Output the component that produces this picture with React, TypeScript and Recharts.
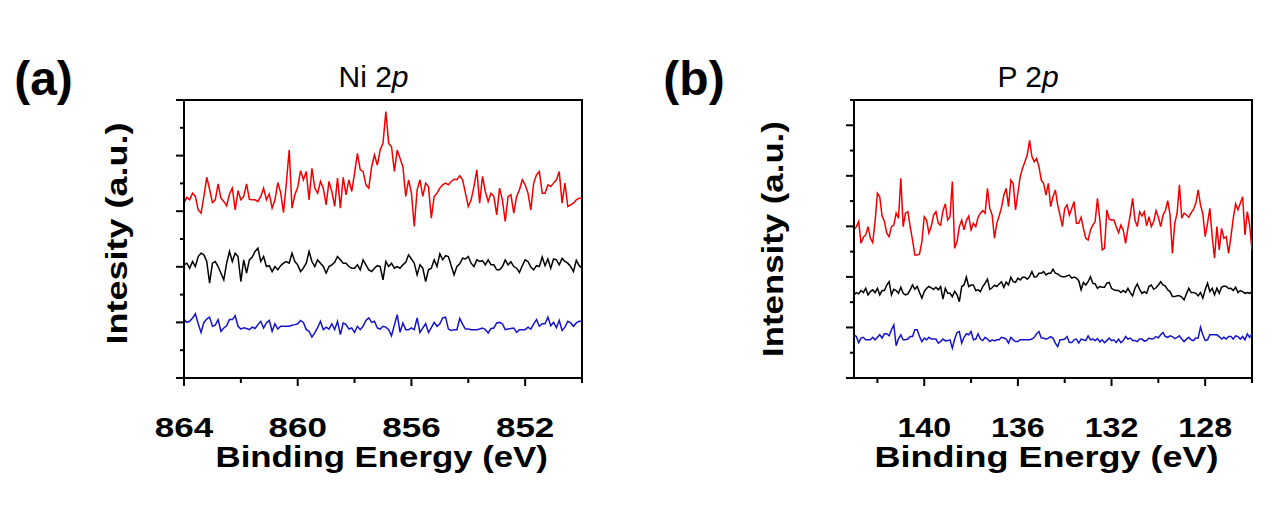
import { Line, LineChart, ReferenceArea, XAxis, YAxis } from "recharts";

// Ni 2p, 864 -> 850 eV, 0.1 eV step
const niStart = 864;
const niRed = [
  62.9, 65.0, 64.1, 66.5, 65.3, 60.5, 59.3, 65.3, 72.2, 67.9,
  63.1, 64.1, 69.8, 64.7, 63.5, 61.9, 66.2, 68.3, 60.5, 67.4,
  64.1, 65.3, 69.8, 64.3, 64.1, 64.1, 63.5, 65.3, 68.3, 64.1,
  66.2, 61.1, 64.1, 70.3, 66.7, 59.5, 70.1, 82.0, 61.1, 65.9,
  68.6, 74.6, 71.3, 74.3, 64.1, 75.4, 68.3, 66.5, 70.7, 68.3,
  62.3, 70.7, 67.1, 61.7, 71.9, 61.1, 72.2, 65.9, 71.3, 67.1,
  73.7, 80.8, 74.9, 74.3, 69.5, 68.3, 76.0, 80.2, 76.6, 82.0,
  84.4,
  95.8, 84.4, 83.2, 74.3, 82.0, 79.0, 76.0, 65.3, 71.3, 66.5,
  54.5, 67.7, 71.3, 65.3, 70.1, 68.9, 57.5, 65.3, 66.5, 68.3,
  69.5, 70.1, 69.5, 70.7, 71.5, 71.3, 72.7, 71.3, 66.5, 61.7,
  64.1, 68.9, 74.9, 62.9, 72.5, 67.1, 63.5, 66.5, 65.3, 58.7,
  68.3, 64.1, 56.3, 65.3, 65.9, 59.3, 65.3, 67.7, 71.3, 69.5,
  66.5, 60.5, 70.1, 73.1, 74.3, 66.5, 66.5, 69.5, 68.9, 70.1,
  71.3, 74.3, 62.9, 70.1, 61.7, 62.3, 62.9, 64.1, 64.7, 64.7,
];
const niBlack = [
  40.7, 41.3, 39.5, 41.9, 40.1, 43.7, 44.9, 44.3, 41.9, 34.1,
  41.3, 41.9, 40.1, 37.7, 35.3, 41.3, 45.5, 41.9, 44.9, 43.7,
  34.7, 42.5, 37.7, 42.5, 43.5, 45.5, 46.7, 41.9, 43.7, 40.1,
  40.4, 38.3, 40.1, 38.9, 40.4, 41.3, 41.9, 41.3, 44.9, 41.9,
  40.7, 38.3, 39.5, 41.3, 45.5, 41.9, 40.1, 42.5, 41.3, 40.1,
  37.7, 40.1, 40.7, 41.6, 43.7, 42.5, 41.3, 41.3, 40.1, 39.5,
  39.5, 40.7, 38.9, 42.5, 40.7, 38.9, 38.3, 39.5, 40.4, 40.1,
  35.3,
  41.9, 40.1, 41.3, 39.5, 40.1, 39.5, 40.7, 41.6, 44.3, 42.8,
  41.3, 37.1, 40.7, 39.5, 34.7, 38.9, 39.5, 42.5, 40.1, 44.7,
  42.5, 44.0, 43.7, 40.4, 37.1, 40.1, 41.1, 43.1, 42.8, 43.7,
  41.3, 40.1, 42.5, 41.9, 42.2, 40.7, 42.5, 40.7, 40.7, 38.9,
  38.9, 40.1, 42.5, 40.7, 41.8, 40.1, 39.5, 38.0, 40.4, 42.5,
  41.9, 39.9, 38.9, 40.4, 40.1, 43.5, 40.4, 42.8, 39.5, 42.8,
  42.5, 40.7, 43.0, 41.9, 41.3, 40.1, 38.3, 42.3, 40.4, 39.5,
];
const niBlue = [
  21.0, 20.0, 20.4, 21.6, 23.1, 19.5, 16.4, 20.0, 21.2, 21.9,
  18.6, 19.0, 21.0, 16.8, 18.0, 18.8, 21.0, 21.0, 22.4, 18.6,
  17.6, 18.1, 17.8, 17.4, 18.3, 17.8, 19.2, 20.4, 18.0, 19.8,
  20.7, 16.8, 19.5, 17.6, 18.6, 18.6, 18.6, 18.6, 19.0, 19.2,
  19.5, 20.7, 20.0, 17.4, 16.8, 14.7, 16.2, 18.1, 20.4, 17.4,
  18.3, 17.6, 19.5, 17.4, 20.4, 15.6, 19.8, 19.2, 17.6, 18.0,
  16.4, 18.6, 17.4, 18.6, 20.7, 21.6, 20.0, 20.4, 18.0, 17.6,
  18.6,
  18.3, 17.4, 15.2, 19.0, 22.8, 16.4, 19.8, 17.4, 17.4, 18.0,
  17.4, 21.6, 16.4, 18.0, 19.5, 16.4, 18.1, 20.0, 18.6, 19.5,
  21.6, 21.9, 17.6, 17.1, 17.4, 17.4, 21.4, 19.3, 17.6, 17.6,
  17.4, 17.4, 17.4, 17.6, 18.0, 17.4, 16.2, 17.8, 18.0, 19.8,
  20.0, 19.5, 17.4, 17.6, 17.8, 18.0, 16.4, 17.4, 17.4, 17.4,
  18.3, 17.6, 19.5, 21.0, 18.6, 19.5, 19.5, 21.9, 18.8, 20.0,
  18.1, 20.7, 17.1, 18.3, 20.4, 19.8, 18.6, 19.8, 20.4, 20.4,
];

// P 2p, 143 -> 126 eV, 0.1 eV step
const pStart = 143;
const pRed = [
  58.6, 59.9, 61.9, 53.3, 55.7, 56.6, 59.9, 55.3, 53.6, 61.9,
  73.1, 71.7, 64.1, 61.9, 57.3, 55.9, 59.9, 60.5, 65.2, 63.2,
  79.0, 59.9, 65.2, 65.8, 59.9, 54.6, 48.7, 48.7, 49.1, 54.0,
  63.8, 62.5, 57.3, 59.9, 64.5, 65.8, 61.2, 60.5, 66.2, 68.9,
  62.5, 63.8, 77.7, 51.3, 54.0, 59.9, 62.5, 58.6, 62.3, 64.1,
  58.6, 61.2, 59.9, 63.6, 65.2, 66.2, 65.2, 75.0, 67.1, 64.5,
  55.3, 61.2, 64.1, 67.5, 72.4, 75.0, 67.8, 78.3, 77.0, 66.5,
  73.1, 79.7, 83.0, 85.6, 88.2, 94.0, 87.6, 85.6, 86.9, 83.6,
  78.3, 77.0, 72.4, 77.0, 67.8, 71.7,
  74.4, 68.5, 64.5, 59.9, 67.1, 68.5, 64.5, 67.1, 69.8, 61.2,
  61.2, 63.6, 59.2, 55.3, 54.6, 58.6, 60.5, 61.9, 71.1, 62.5,
  50.7, 51.3, 66.5, 62.8, 62.5, 62.5, 59.9, 57.5, 60.5, 58.6,
  53.3, 59.2, 64.5, 71.1, 62.5, 59.9, 65.8, 64.1, 65.8, 60.2,
  63.8, 59.9, 61.9, 66.2, 63.6, 59.9, 64.5, 66.2, 70.2, 64.5,
  49.3, 61.2, 65.2, 76.4, 63.2, 65.2, 64.5, 63.6, 65.4, 66.7,
  69.1, 74.4, 68.5, 64.9, 55.9, 61.2, 67.1, 55.9, 47.4, 59.9,
  50.7, 59.2, 55.3, 55.9, 49.3, 55.9, 63.2, 68.9, 66.5, 69.1,
  71.7, 56.6, 65.8, 60.5, 50.7,
];
const pBlack = [
  32.9, 33.8, 33.3, 34.6, 33.8, 35.5, 32.9, 34.2, 34.9, 33.8,
  35.5, 32.9, 34.6, 34.6, 36.8, 38.1, 32.9, 35.1, 34.6, 33.5,
  35.9, 33.5, 32.9, 33.3, 34.9, 36.8, 35.1, 36.2, 33.8, 31.6,
  34.2, 35.5, 36.2, 35.7, 35.1, 35.9, 34.9, 36.2, 31.2, 35.5,
  33.5, 33.5, 32.2, 34.3, 32.9, 30.2, 36.2, 36.8, 39.9, 36.2,
  36.8, 36.8, 34.6, 34.9, 34.2, 36.2, 37.5, 39.1, 35.1, 35.7,
  36.7, 36.2, 37.2, 38.1, 35.9, 38.0, 36.8, 39.9, 38.1, 37.8,
  39.5, 38.8, 39.9, 39.9, 39.1, 40.1, 42.1, 39.9, 40.1, 41.4,
  41.4, 42.1, 40.8, 41.4, 41.4, 43.0,
  41.5, 41.2, 40.4, 40.1, 40.1, 40.4, 40.7, 39.5, 39.9, 39.5,
  38.5, 34.9, 37.8, 36.8, 38.1, 40.1, 37.5, 37.2, 35.5, 36.2,
  35.9, 35.9, 37.5, 37.8, 35.5, 34.9, 34.6, 34.6, 33.8, 34.6,
  33.8, 35.5, 33.8, 32.5, 35.5, 37.2, 35.1, 33.5, 34.2, 33.5,
  36.2, 36.8, 35.1, 35.7, 36.8, 38.1, 36.8, 36.4, 34.9, 34.2,
  32.2, 32.2, 32.5, 32.5, 32.0, 30.9, 33.3, 35.5, 33.8, 33.8,
  33.5, 32.5, 33.8, 31.6, 34.9, 37.5, 34.2, 35.5, 32.9, 35.5,
  33.5, 35.9, 36.4, 36.2, 35.4, 35.5, 34.6, 35.9, 33.8, 34.6,
  34.2, 33.5, 33.8, 33.5, 34.2,
];
const pBlue = [
  17.1, 16.4, 14.0, 15.8, 16.1, 15.1, 15.1, 15.1, 16.1, 15.1,
  16.1, 17.1, 15.8, 17.5, 17.5, 16.7, 19.1, 21.0, 12.8, 15.5,
  17.1, 15.1, 15.1, 15.4, 16.4, 16.4, 19.1, 19.1, 16.4, 14.4,
  15.8, 15.1, 16.1, 15.4, 15.4, 15.4, 13.8, 14.4, 15.4, 14.7,
  14.8, 15.1, 11.8, 15.4, 18.0, 18.4, 13.8, 16.1, 17.5, 17.1,
  18.4, 15.1, 15.4, 17.5, 15.4, 14.8, 16.1, 15.4, 14.4, 15.1,
  14.7, 15.1, 15.1, 16.1, 15.8, 15.4, 13.8, 16.1, 15.1, 14.4,
  14.4, 15.1, 15.1, 15.1, 15.1, 15.1, 15.4, 16.1, 17.5, 18.4,
  15.8, 15.8, 15.4, 15.8, 16.4, 15.8,
  13.8, 12.4, 15.1, 15.1, 15.4, 16.4, 14.0, 14.0, 15.1, 15.4,
  13.8, 15.4, 15.1, 14.8, 16.7, 15.1, 15.4, 14.8, 15.6, 14.3,
  15.1, 14.0, 14.8, 15.8, 14.8, 15.1, 14.0, 15.4, 14.0, 14.8,
  16.4, 15.4, 15.8, 14.8, 14.8, 14.4, 15.4, 15.4, 14.6, 14.8,
  15.8, 15.4, 15.6, 16.4, 15.9, 17.1, 18.0, 16.4, 16.1, 16.7,
  16.4, 15.6, 16.1, 16.7, 15.4, 14.4, 15.4, 16.1, 15.1, 14.8,
  15.8, 15.8, 20.1, 17.1, 14.8, 15.1, 17.1, 17.1, 17.1, 17.1,
  16.4, 15.4, 16.1, 15.4, 16.4, 16.4, 15.4, 16.7, 16.4, 15.4,
  16.4, 15.1, 17.5, 16.1, 17.5,
];

const step = 0.1;
const niTicks = [850, 852, 854, 856, 858, 860, 862, 864];
const pTicks = [126, 128, 130, 132, 134, 136, 138, 140, 142];
const niYTicks = [0, 10, 20, 30, 40, 50, 60, 70, 80, 90, 100];
const pYTicks = [0, 10, 20, 30, 40, 50, 60, 70, 80, 90, 100, 110];

const FONT = '"Liberation Sans", Arial, sans-serif';
const RED = "#f00000";
const BLUE = "#1414cc";

function buildRows(start: number, red: number[], black: number[], blue: number[]) {
  return red.map((v, i) => ({
    e: +(start - i * step).toFixed(1),
    red: v,
    black: black[i],
    blue: blue[i],
  }));
}

const xTick = (stretch: number) => (props: any) => {
  const { x, y, payload } = props;
  const major = payload.value % 4 === 0;
  return (
    <g>
      <line x1={x} y1={y} x2={x} y2={y + (major ? 8 : 5)} stroke="#000" strokeWidth={2} />
      {major && (
        <text
          transform={`translate(${x},${y + 59}) scale(${stretch},1)`}
          textAnchor="middle"
          fontFamily={FONT}
          fontWeight="bold"
          fontSize={28}
          fill="#000"
        >
          {payload.value}
        </text>
      )}
    </g>
  );
};

const yTick = (props: any) => {
  const { x, y, payload } = props;
  const major = payload.value % 20 === 0;
  return <line x1={x} y1={y} x2={x - (major ? 8 : 4)} y2={y} stroke="#000" strokeWidth={2} />;
};

type PanelProps = {
  left: number;
  width: number;
  plotLeft: number;
  plotRight: number;
  rows: ReturnType<typeof buildRows>;
  domain: [number, number];
  xTicks: number[];
  yMax: number;
  yTicks: number[];
  tickStretch: number;
};

function Panel({ left, width, plotLeft, plotRight, rows, domain, xTicks, yMax, yTicks, tickStretch }: PanelProps) {
  return (
    <div style={{ position: "absolute", left, top: 0 }}>
      <LineChart
        width={width}
        height={517}
        data={rows}
        margin={{ top: 100, left: plotLeft - 60, right: width - plotRight, bottom: 79 }}
      >
        <XAxis
          dataKey="e"
          type="number"
          domain={domain}
          reversed
          allowDataOverflow
          ticks={xTicks}
          interval={0}
          height={60}
          tickSize={0}
          tickMargin={0}
          tickLine={false}
          axisLine={{ stroke: "#000", strokeWidth: 2 }}
          tick={xTick(tickStretch)}
        />
        <YAxis
          type="number"
          domain={[0, yMax]}
          allowDataOverflow
          ticks={yTicks}
          interval={0}
          width={60}
          tickSize={0}
          tickMargin={0}
          tickLine={false}
          axisLine={{ stroke: "#000", strokeWidth: 2 }}
          tick={yTick}
        />
        <ReferenceArea
          x1={domain[0]}
          x2={domain[1]}
          y1={0}
          y2={yMax}
          fill="none"
          stroke="#000"
          strokeWidth={2}
        />
        <Line type="linear" dataKey="red" stroke={RED} strokeWidth={1.5} dot={false} isAnimationActive={false} />
        <Line type="linear" dataKey="black" stroke="#000" strokeWidth={1.5} dot={false} isAnimationActive={false} />
        <Line type="linear" dataKey="blue" stroke={BLUE} strokeWidth={1.5} dot={false} isAnimationActive={false} />
      </LineChart>
    </div>
  );
}

export default function App() {
  const niRows = buildRows(niStart, niRed, niBlack, niBlue);
  const pRows = buildRows(pStart, pRed, pBlack, pBlue);

  return (
    <div style={{ position: "absolute", left: 0, top: 0, width: 1277, height: 517, background: "#fff", overflow: "hidden" }}>
      <Panel
        left={0}
        width={640}
        plotLeft={184}
        plotRight={582}
        rows={niRows}
        domain={[850, 864]}
        xTicks={niTicks}
        yMax={100}
        yTicks={niYTicks}
        tickStretch={1.25}
      />
      <Panel
        left={640}
        width={637}
        plotLeft={214}
        plotRight={612}
        rows={pRows}
        domain={[126, 143]}
        xTicks={pTicks}
        yMax={110}
        yTicks={pYTicks}
        tickStretch={1.15}
      />
      <svg width={1277} height={517} style={{ position: "absolute", left: 0, top: 0, pointerEvents: "none" }}>
        <g fontFamily={FONT} fill="#000">
          <text x={43.5} y={95} textAnchor="middle" fontWeight="bold" fontSize={48}>(a)</text>
          <text x={694} y={95} textAnchor="middle" fontWeight="bold" fontSize={48}>(b)</text>
          <text x={373.5} y={87} textAnchor="middle" fontSize={30}>
            Ni 2<tspan fontStyle="italic">p</tspan>
          </text>
          <text x={1028} y={87} textAnchor="middle" fontSize={30}>
            P 2<tspan fontStyle="italic">p</tspan>
          </text>
          <text transform="translate(127,233.5) rotate(-90) scale(1.2,1)" textAnchor="middle" fontWeight="bold" fontSize={30}>
            Intesity (a.u.)
          </text>
          <text transform="translate(783,239) rotate(-90) scale(1.16,1)" textAnchor="middle" fontWeight="bold" fontSize={30}>
            Intensity (a.u.)
          </text>
          <text transform="translate(381.7,467) scale(1.16,1)" textAnchor="middle" fontWeight="bold" fontSize={30}>
            Binding Energy (eV)
          </text>
          <text transform="translate(1046.5,467) scale(1.2,1)" textAnchor="middle" fontWeight="bold" fontSize={30}>
            Binding Energy (eV)
          </text>
        </g>
      </svg>
    </div>
  );
}
